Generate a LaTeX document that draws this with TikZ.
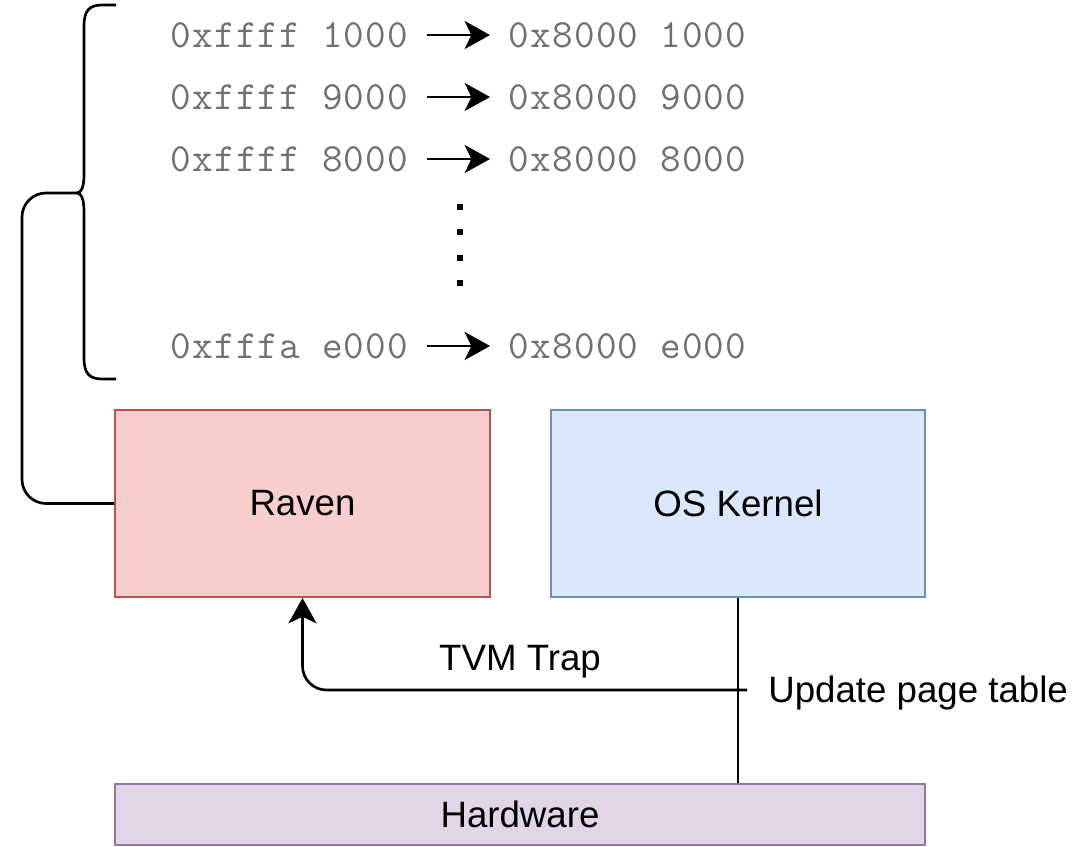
\documentclass[tikz,border=0pt]{standalone}
\usepackage{fontspec}
\setmainfont{Liberation Sans}
\newfontfamily\addrfont[LetterSpace=3]{Latin Modern Mono}
\usetikzlibrary{arrows.meta}

\definecolor{ravenfill}{HTML}{F8CECC}
\definecolor{ravenline}{HTML}{B85450}
\definecolor{kernelfill}{HTML}{DAE8FC}
\definecolor{kernelline}{HTML}{6C8EBF}
\definecolor{hwfill}{HTML}{E1D5E7}
\definecolor{hwline}{HTML}{9673A6}
\definecolor{addrgray}{HTML}{707070}

\begin{document}
\begin{tikzpicture}[x=0.75pt, y=-0.75pt,
    box/.style={draw, line width=1.5pt, inner sep=0pt, font=\fontsize{27.5}{33}\selectfont},
    addr/.style={inner xsep=14pt, inner ysep=0pt, text=addrgray, font=\addrfont\fontsize{30}{36}\selectfont},
    tip/.style={-{Stealth[length=19pt,width=21pt,inset=5pt]}, line width=2pt},
    lbl/.style={inner sep=0pt, font=\fontsize{27.5}{33}\selectfont}]
    \useasboundingbox (0,0) rectangle (1092,846);

    % blocks
    \node [box, fill=ravenfill, draw=ravenline, minimum width=281.25pt, minimum height=140.25pt] (raven) at (302.5,503.5) {Raven};
    \node [box, fill=kernelfill, draw=kernelline, minimum width=280.5pt, minimum height=140.25pt] (kernel) at (738,503.5) {OS Kernel};
    \node [box, fill=hwfill, draw=hwline, minimum width=607.5pt, minimum height=45.75pt] (hw) at (520,814.5) {Hardware};

    % address mappings
    \foreach \y/\src/\dst [count=\i] in {35/ffff 1000/8000 1000, 97/ffff 9000/8000 9000, 159/ffff 8000/8000 8000, 346/fffa e000/8000 e000} {
        \node [addr, anchor=east] (src\i) at (427,\y) {0x\src};
        \node [addr, anchor=west] (dst\i) at (490,\y) {0x\dst};
        \draw [tip] (src\i.east) -- (dst\i.west);
    }
    \foreach \y in {207,232,258,283}
        \fill (460,\y) +(-3,-3) rectangle +(3,3);

    % brace
    \draw [line width=2pt] (116,5) -- (102,5) .. controls (89,5) and (84,11) .. (84,26) -- (84,174)
        .. controls (84,188) and (81,193) .. (77,193) .. controls (81,193) and (84,198) .. (84,212)
        -- (84,358) .. controls (84,373) and (89,379) .. (102,379) -- (116,379);
    \coordinate (bracetip) at (77,193);
    \draw [line width=2pt, rounded corners=18pt] (bracetip) -- (22,193) |- (raven.west);

    % page table update
    \draw [line width=2pt] (kernel.south) -- (kernel.south |- hw.north);
    \coordinate (split) at (747,690);
    \draw [tip, rounded corners=18pt] (split) -| (raven.south);
    \node [lbl, anchor=base west] (upd) at (768,702) {Update page table};
    \node [lbl, anchor=base] (trap) at (520,670) {TVM Trap};
\end{tikzpicture}
\end{document}
